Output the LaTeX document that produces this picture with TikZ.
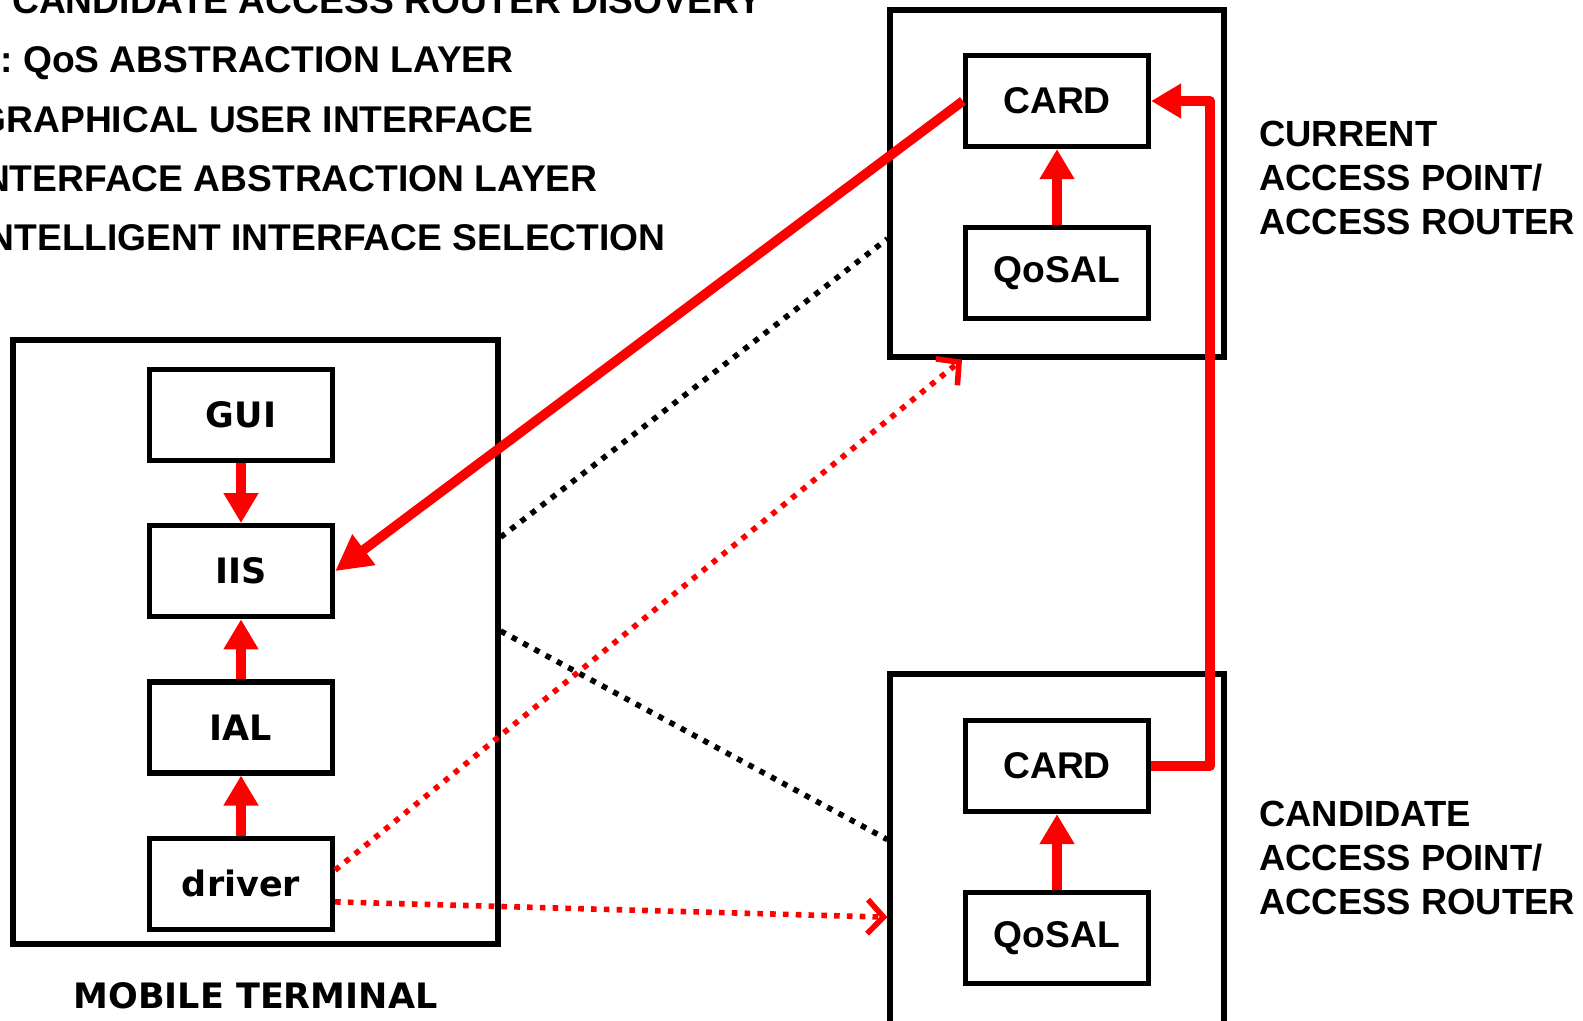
\documentclass[tikz,border=0pt]{standalone}
\usepackage{fontspec}
\newfontfamily\termfont{DejaVu Sans}
\newfontfamily\capsfont{Liberation Sans}
\usetikzlibrary{positioning}
\usetikzlibrary{calc}
\usetikzlibrary{arrows.meta}
\tikzset{
layer/.style={
  draw=black,
  line width=2.6pt,
  minimum width=91.5pt,
  minimum height=45.5pt,
  inner sep=0pt,
  fill=white,
  font=\termfont\bfseries\fontsize{17.5}{21}\selectfont
  },
entity/.style={
  layer,
  font=\capsfont\bfseries\fontsize{18.6}{22}\selectfont
  },
frame/.style={
  draw=black,
  line width=2.6pt,
  inner sep=0pt
  },
legend/.style={
  anchor=base east,
  inner sep=0pt,
  font=\capsfont\bfseries\fontsize{18.6}{22}\selectfont
  },
site/.style={
  inner sep=0pt,
  anchor=west,
  align=left,
  font=\capsfont\bfseries\fontsize{18.2}{22.2}\selectfont
  },
flow/.style={
  draw=red,
  line width=4.8pt,
  line join=round,
  -{Triangle[length=15pt,width=16.5pt]}
  },
link/.style={
  draw=black,
  line width=2.8pt,
  dash pattern=on 2.8pt off 3.6pt
  },
hint/.style={
  link,
  draw=red,
  -{Straight Barb[length=8pt,width=17pt,line width=2.8pt]}
  }
}

\begin{document}
\begin{tikzpicture}[x=0.5pt,y=-0.5pt]
  \useasboundingbox (0,0) rectangle (1583,1021);
  \clip (0,0) rectangle (1583,1021);

  % legend (runs off the left edge)
  \node[legend] (lcard) at (763,14) {CARD: CANDIDATE ACCESS ROUTER DISOVERY};
  \node[legend] (lqos) at (514,73) {QoSAL: QoS ABSTRACTION LAYER};
  \node[legend] (lgui) at (534,133) {GUI: GRAPHICAL USER INTERFACE};
  \node[legend] (lial) at (598,192) {IAL: INTERFACE ABSTRACTION LAYER};
  \node[legend] (liis) at (666,251) {IIS: INTELLIGENT INTERFACE SELECTION};

  % outer frames
  \node[frame,minimum width=242.5pt,minimum height=302pt] (mt) at (255.5,642) {};
  \node[frame,minimum width=167pt,minimum height=173.5pt] (cur) at (1057,183.5) {};
  \node[frame,minimum width=167pt,minimum height=213pt] (cand) at (1057,887) {};

  % mobile terminal stack
  \node[layer] (gui) at (241,415) {GUI};
  \node[layer] (iis) [below=30pt of gui] {IIS};
  \node[layer] (ial) [below=30pt of iis] {IAL};
  \node[layer] (drv) [below=30pt of ial] {driver};
  \node[inner sep=0pt,font=\termfont\bfseries\fontsize{17.5}{21}\selectfont] (mtl) [below=18pt of mt] {MOBILE TERMINAL};

  % access points
  \node[entity] (card1) at (1057,101) {CARD};
  \node[entity] (qosal1) [below=37.75pt of card1] {QoSAL};
  \node[entity] (card2) at (1057,766) {CARD};
  \node[entity] (qosal2) [below=37.75pt of card2] {QoSAL};
  \node[site] (curl) at (1259,178) {CURRENT\\ACCESS POINT/\\ACCESS ROUTER};
  \node[site] (candl) at (1259,858) {CANDIDATE\\ACCESS POINT/\\ACCESS ROUTER};

  % radio links
  \draw[link] ($(mt.north east)!0.328!(mt.south east)$) -- ($(cur.north west)!0.657!(cur.south west)$);
  \draw[link] ($(mt.north east)!0.482!(mt.south east)$) -- ($(cand.north west)!0.39!(cand.south west)$);
  \draw[hint] ($(drv.north east)!0.36!(drv.south east)$) -- ($(cur.south west)!0.22!(cur.south east)$);
  \draw[hint] ($(drv.north east)!0.69!(drv.south east)$) -- ($(cand.north west)!0.57!(cand.south west)$);

  % signalling
  \draw[flow] (gui) -- (iis);
  \draw[flow] (ial) -- (iis);
  \draw[flow] (drv) -- (ial);
  \draw[flow] (qosal1) -- (card1);
  \draw[flow] (qosal2) -- (card2);
  \draw[flow,-{Triangle[length=18pt,width=18pt]}] (card1.west) -- (iis.east);
  \draw[flow] (card2.east) -- ++(59,0) |- (card1.east);
\end{tikzpicture}
\end{document}
